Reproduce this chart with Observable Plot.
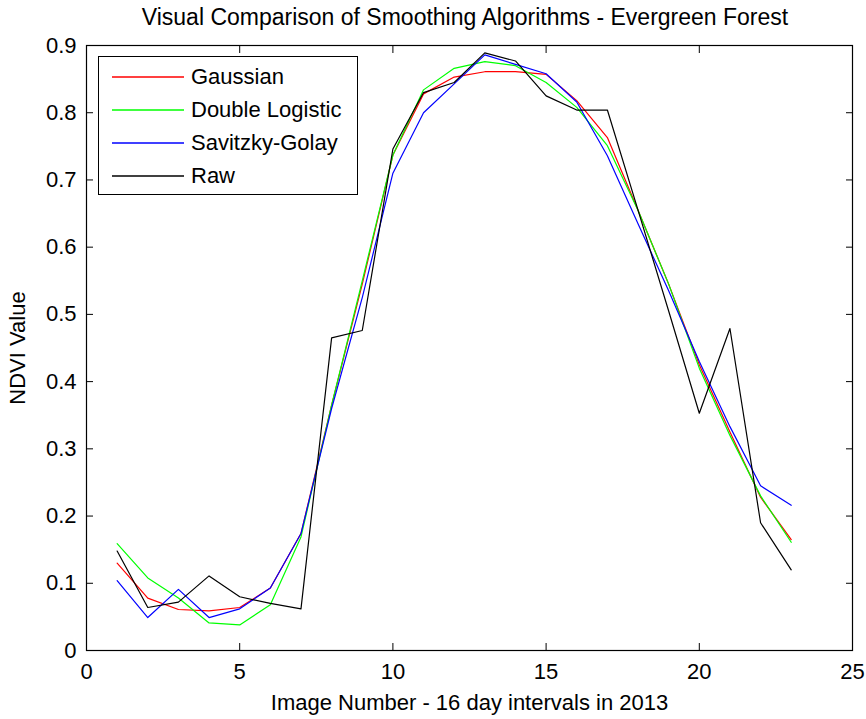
<!DOCTYPE html>
<html>
<head>
<meta charset="utf-8">
<script src="https://cdn.jsdelivr.net/npm/d3@7"></script>
<script src="https://cdn.jsdelivr.net/npm/@observablehq/plot@0.6"></script>
<style>
  body { margin: 0; background: #fff; font-family: "Liberation Sans", Arial, sans-serif; }
  #wrap { position: relative; width: 866px; height: 719px; overflow: hidden; }
  #title { height: 32px; line-height: 35px; font-size: 23px; text-align: center;
           padding-left: 86px; padding-right: 22px; white-space: nowrap; color: #000; }
  #legend { position: absolute; left: 98px; top: 56px; width: 260px; height: 139px;
            box-sizing: border-box; border: 1px solid #000; background: #fff; padding-top: 3px; }
  .row { height: 33px; display: flex; align-items: center; font-size: 22px; color: #000; }
  .sw { margin-left: 13px; width: 72px; height: 4px; display: block; }
  .lab { margin-left: 7px; white-space: nowrap; }
</style>
</head>
<body>
<div id="wrap">
  <div id="title">Visual Comparison of Smoothing Algorithms - Evergreen Forest</div>
  <div id="chart"></div>
  <div id="legend"></div>
</div>
<script>
const xValues = [1,2,3,4,5,6,7,8,9,10,11,12,13,14,15,16,17,18,19,20,21,22,23];
const gaussian = [0.130,0.078,0.061,0.059,0.064,0.093,0.174,0.365,0.545,0.737,0.828,0.853,0.861,0.861,0.857,0.818,0.763,0.655,0.545,0.425,0.325,0.228,0.165];
const doubleLogistic = [0.159,0.108,0.078,0.041,0.038,0.068,0.169,0.365,0.550,0.737,0.834,0.866,0.876,0.870,0.845,0.808,0.751,0.655,0.545,0.420,0.320,0.230,0.161];
const savitzkyGolay = [0.104,0.049,0.091,0.049,0.062,0.093,0.174,0.360,0.525,0.710,0.800,0.843,0.886,0.872,0.858,0.816,0.736,0.635,0.535,0.430,0.333,0.245,0.216];
const raw = [0.148,0.064,0.072,0.111,0.080,0.070,0.062,0.465,0.476,0.746,0.830,0.845,0.889,0.877,0.825,0.804,0.804,0.655,0.505,0.353,0.479,0.190,0.120];

const seriesNames = ["Gaussian", "Double Logistic", "Savitzky-Golay", "Raw"];
const seriesColors = ["#ff0000", "#00ff00", "#0000ff", "#000000"];
const seriesValues = [gaussian, doubleLogistic, savitzkyGolay, raw];

const xTicks = [0, 5, 10, 15, 20, 25];
const xTickLabels = ["0", "5", "10", "15", "20", "25"];
const yTicks = [0, 0.1, 0.2, 0.3, 0.4, 0.5, 0.6, 0.7, 0.8, 0.9];
const yTickLabels = ["0", "0.1", "0.2", "0.3", "0.4", "0.5", "0.6", "0.7", "0.8", "0.9"];

const xLabel = "Image Number - 16 day intervals in 2013";
const yLabel = "NDVI Value";

const rows = seriesNames.flatMap((name, s) =>
  xValues.map((x, i) => ({series: name, x, y: seriesValues[s][i]})));

const font = "'Liberation Sans', Arial, sans-serif";

const chart = Plot.plot({
  width: 866,
  height: 687,
  marginLeft: 86,
  marginRight: 14,
  marginTop: 13,
  marginBottom: 69,
  style: {fontFamily: font, fontSize: "22px", color: "#000", background: "#fff", overflow: "visible"},
  x: {domain: [0, 25]},
  y: {domain: [0, 0.9]},
  marks: [
    ...seriesNames.map((name, s) =>
      Plot.line(rows.filter(d => d.series === name), {x: "x", y: "y", stroke: seriesColors[s], strokeWidth: 1.2})),
    Plot.frame({stroke: "#000", strokeWidth: 1.2}),
    Plot.axisX(xTicks, {anchor: "bottom", tickSize: -7, tickPadding: 20, fontSize: 22,
      tickFormat: d => xTickLabels[xTicks.indexOf(d)],
      label: xLabel, labelAnchor: "center", labelArrow: "none", labelOffset: 59}),
    Plot.axisX(xTicks, {anchor: "top", tickSize: -7, tickFormat: () => "", label: null}),
    Plot.axisY(yTicks, {anchor: "left", tickSize: -7, tickPadding: 17, fontSize: 22,
      tickFormat: d => yTickLabels[yTicks.indexOf(d)],
      label: yLabel, labelAnchor: "center", labelArrow: "none", labelOffset: 77}),
    Plot.axisY(yTicks, {anchor: "right", tickSize: -7, tickFormat: () => "", label: null})
  ]
});
document.getElementById("chart").appendChild(chart);

const legend = document.getElementById("legend");
const svgNS = "http://www.w3.org/2000/svg";
seriesNames.forEach((name, s) => {
  const row = document.createElement("div");
  row.className = "row";
  const sw = document.createElementNS(svgNS, "svg");
  sw.setAttribute("class", "sw");
  sw.setAttribute("width", "72");
  sw.setAttribute("height", "4");
  const ln = document.createElementNS(svgNS, "line");
  ln.setAttribute("x1", "0"); ln.setAttribute("x2", "72");
  ln.setAttribute("y1", "2"); ln.setAttribute("y2", "2");
  ln.setAttribute("stroke", seriesColors[s]);
  ln.setAttribute("stroke-width", "1.4");
  sw.appendChild(ln);
  const lab = document.createElement("span");
  lab.className = "lab";
  lab.textContent = name;
  row.appendChild(sw);
  row.appendChild(lab);
  legend.appendChild(row);
});
</script>
</body>
</html>
